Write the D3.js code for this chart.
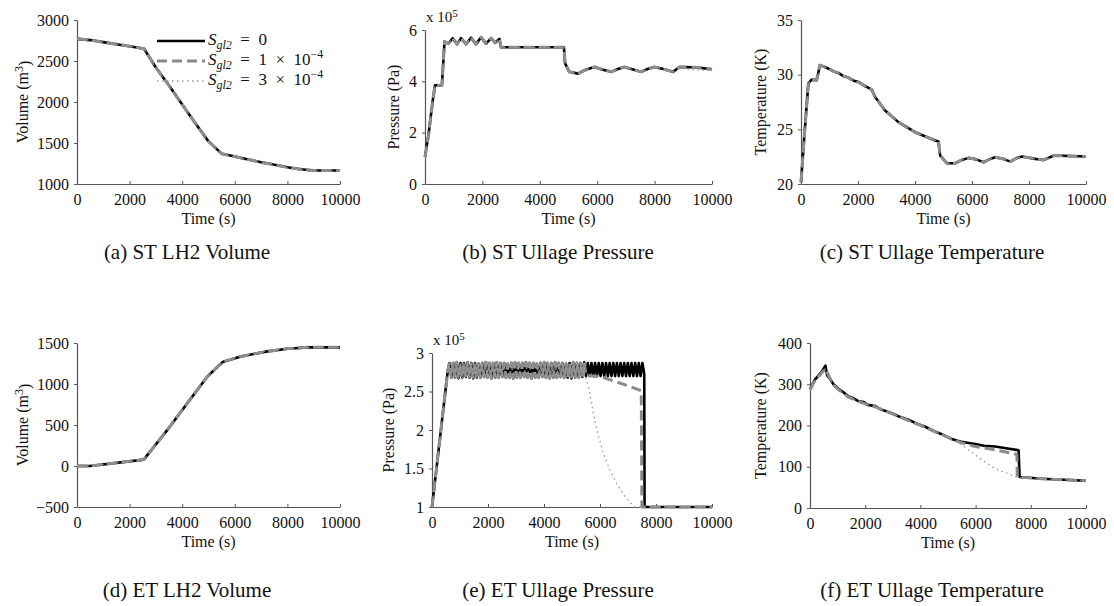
<!DOCTYPE html>
<html>
<head>
<meta charset="utf-8">
<script src="https://cdn.jsdelivr.net/npm/d3@7"></script>
<style>
    body { margin: 0; background: #fff; }
    svg { font-family: "Liberation Serif", "Times New Roman", serif; }
</style>
</head>
<body>
<div id="chart"></div>
<script>
// Axe commun du temps
var timeTicks = [0, 2000, 4000, 6000, 8000, 10000];

// (a) ST LH2 Volume (m3)
var stVolS0 = [[0, 2770], [500, 2755], [1000, 2730], [1500, 2705], [2000, 2680], [2550, 2650], [3000, 2420], [3500, 2200], [4000, 1970], [4500, 1740], [5000, 1520], [5500, 1370], [6000, 1335], [6500, 1300], [7000, 1265], [7500, 1235], [8000, 1205], [8500, 1180], [9000, 1165], [10000, 1165]];
var stVolS1 = [[0, 2770], [500, 2755], [1000, 2730], [1500, 2705], [2000, 2680], [2550, 2650], [3000, 2420], [3500, 2200], [4000, 1970], [4500, 1740], [5000, 1520], [5500, 1370], [6000, 1335], [6500, 1300], [7000, 1265], [7500, 1235], [8000, 1205], [8500, 1180], [9000, 1165], [10000, 1165]];
var stVolS2 = [[0, 2770], [500, 2755], [1000, 2730], [1500, 2705], [2000, 2680], [2550, 2650], [3000, 2420], [3500, 2200], [4000, 1970], [4500, 1740], [5000, 1520], [5500, 1368], [6000, 1328], [6500, 1290], [7000, 1252], [7500, 1222], [8000, 1195], [8500, 1172], [9000, 1160], [10000, 1160]];
var stVolTicks = [1000, 1500, 2000, 2500, 3000];

// (b) ST Ullage Pressure (x 1e5 Pa)
var stPresS0 = [[0, 1.05], [120, 1.9], [270, 3.25], [350, 3.85], [590, 3.85], [680, 5.55], [814, 5.47], [965, 5.68], [1116, 5.45], [1256, 5.68], [1430, 5.45], [1605, 5.7], [1779, 5.45], [1953, 5.72], [2128, 5.47], [2302, 5.68], [2442, 5.5], [2593, 5.65], [2650, 5.33], [4840, 5.33], [4880, 4.7], [5030, 4.37], [5330, 4.3], [5600, 4.45], [5900, 4.56], [6200, 4.45], [6490, 4.37], [6700, 4.47], [6950, 4.56], [7250, 4.46], [7530, 4.37], [7750, 4.48], [8000, 4.56], [8300, 4.48], [8640, 4.37], [8870, 4.56], [9400, 4.55], [10000, 4.47]];
var stPresS1 = [[0, 1.05], [120, 1.9], [270, 3.25], [350, 3.85], [590, 3.85], [680, 5.55], [814, 5.47], [965, 5.68], [1116, 5.45], [1256, 5.68], [1430, 5.45], [1605, 5.7], [1779, 5.45], [1953, 5.72], [2128, 5.47], [2302, 5.68], [2442, 5.5], [2593, 5.65], [2650, 5.33], [4840, 5.33], [4880, 4.7], [5030, 4.37], [5330, 4.3], [5600, 4.45], [5900, 4.56], [6200, 4.45], [6490, 4.37], [6700, 4.47], [6950, 4.56], [7250, 4.46], [7530, 4.37], [7750, 4.48], [8000, 4.56], [8300, 4.48], [8640, 4.37], [8870, 4.56], [9400, 4.55], [10000, 4.47]];
var stPresS2 = [[0, 1.05], [120, 1.9], [270, 3.25], [350, 3.85], [590, 3.85], [680, 5.55], [814, 5.47], [965, 5.68], [1116, 5.45], [1256, 5.68], [1430, 5.45], [1605, 5.7], [1779, 5.45], [1953, 5.72], [2128, 5.47], [2302, 5.68], [2442, 5.5], [2593, 5.65], [2650, 5.33], [4840, 5.33], [4880, 4.7], [5030, 4.37], [5330, 4.3], [5600, 4.45], [5900, 4.56], [6200, 4.45], [6490, 4.37], [6700, 4.47], [6950, 4.56], [7250, 4.46], [7530, 4.37], [7750, 4.48], [8000, 4.56], [8300, 4.48], [8640, 4.37], [8870, 4.5], [9400, 4.45], [10000, 4.42]];
var stPresTicks = [0, 2, 4, 6];

// (c) ST Ullage Temperature (K)
var stTempS0 = [[0, 20.15], [140, 25.2], [258, 29.2], [375, 29.55], [550, 29.5], [667, 30.87], [960, 30.56], [1150, 30.3], [1311, 30.16], [1500, 29.85], [1663, 29.73], [1850, 29.45], [2014, 29.34], [2250, 28.95], [2482, 28.63], [2600, 27.96], [2950, 26.73], [3419, 25.66], [4005, 24.74], [4707, 23.98], [4824, 23.89], [4883, 22.6], [5117, 21.9], [5410, 21.9], [5650, 22.2], [5878, 22.39], [6150, 22.25], [6405, 21.99], [6600, 22.25], [6815, 22.45], [7100, 22.3], [7342, 22.05], [7550, 22.35], [7752, 22.51], [8220, 22.3], [8513, 22.2], [8700, 22.4], [8864, 22.6], [10000, 22.51]];
var stTempS1 = [[0, 20.15], [140, 25.2], [258, 29.2], [375, 29.55], [550, 29.5], [667, 30.87], [960, 30.56], [1150, 30.3], [1311, 30.16], [1500, 29.85], [1663, 29.73], [1850, 29.45], [2014, 29.34], [2250, 28.95], [2482, 28.63], [2600, 27.96], [2950, 26.73], [3419, 25.66], [4005, 24.74], [4707, 23.98], [4824, 23.89], [4883, 22.6], [5117, 21.9], [5410, 21.9], [5650, 22.2], [5878, 22.39], [6150, 22.25], [6405, 21.99], [6600, 22.25], [6815, 22.45], [7100, 22.3], [7342, 22.05], [7550, 22.35], [7752, 22.51], [8220, 22.3], [8513, 22.2], [8700, 22.4], [8864, 22.6], [10000, 22.51]];
var stTempS2 = [[0, 20.15], [140, 25.2], [258, 29.2], [375, 29.55], [550, 29.5], [667, 30.87], [960, 30.56], [1150, 30.3], [1311, 30.16], [1500, 29.85], [1663, 29.73], [1850, 29.45], [2014, 29.34], [2250, 28.95], [2482, 28.63], [2600, 27.96], [2950, 26.73], [3419, 25.66], [4005, 24.74], [4707, 23.98], [4824, 23.89], [4883, 22.6], [5117, 21.9], [5410, 21.9], [5650, 22.2], [5878, 22.39], [6150, 22.25], [6405, 21.99], [6600, 22.25], [6815, 22.45], [7100, 22.3], [7342, 22.05], [7550, 22.35], [7752, 22.51], [8220, 22.3], [8513, 22.2], [8700, 22.35], [8864, 22.5], [10000, 22.4]];
var stTempTicks = [20, 25, 30, 35];

// (d) ET LH2 Volume (m3)
var etVolS0 = [[0, 0], [500, 0], [2540, 78], [3430, 437], [4190, 764], [4960, 1091], [5530, 1267], [6230, 1336], [7240, 1398], [8000, 1430], [8770, 1447], [10000, 1447]];
var etVolS1 = [[0, 0], [500, 0], [2540, 78], [3430, 437], [4190, 764], [4960, 1091], [5530, 1267], [6230, 1336], [7240, 1398], [8000, 1430], [8770, 1447], [10000, 1447]];
var etVolS2 = [[0, 0], [500, 0], [2540, 78], [3430, 437], [4190, 764], [4960, 1091], [5530, 1270], [6230, 1345], [7240, 1405], [8000, 1433], [8770, 1447], [10000, 1447]];
var etVolTicks = [-500, 0, 500, 1000, 1500];

// (e) ET Ullage Pressure (x 1e5 Pa) : cycles de pressurisation
var etPresCycles = [
    [560, 2.76], [625, 2.87], [690, 2.68], [755, 2.87], [820, 2.68], [885, 2.88], [950, 2.67], [1015, 2.87],
    [1080, 2.68], [1145, 2.87], [1210, 2.69], [1275, 2.88], [1340, 2.68], [1405, 2.87], [1470, 2.67], [1535, 2.87],
    [1600, 2.68], [1665, 2.86], [1730, 2.68], [1795, 2.87], [1860, 2.69], [1925, 2.88], [1990, 2.68], [2055, 2.87],
    [2120, 2.67], [2185, 2.87], [2250, 2.68], [2315, 2.88], [2380, 2.68], [2445, 2.87], [2510, 2.69], [2575, 2.87],
    [2640, 2.68], [2705, 2.86], [2770, 2.68], [2835, 2.87], [2900, 2.67], [2965, 2.88], [3030, 2.68], [3095, 2.87],
    [3160, 2.68], [3225, 2.87], [3290, 2.69], [3355, 2.88], [3420, 2.68], [3485, 2.87], [3550, 2.67], [3615, 2.87],
    [3680, 2.68], [3745, 2.86], [3810, 2.68], [3875, 2.87], [3940, 2.69], [4005, 2.88], [4070, 2.68], [4135, 2.87],
    [4200, 2.67], [4265, 2.87], [4330, 2.68], [4395, 2.88], [4460, 2.68], [4525, 2.87], [4590, 2.69], [4655, 2.87],
    [4720, 2.68], [4785, 2.86], [4850, 2.68], [4915, 2.87], [4980, 2.67], [5045, 2.88], [5110, 2.68], [5175, 2.87],
    [5240, 2.68], [5305, 2.87], [5370, 2.69], [5435, 2.88], [5500, 2.7], [5565, 2.87], [5630, 2.7], [5695, 2.87],
    [5760, 2.7], [5825, 2.87], [5890, 2.7], [5955, 2.87], [6020, 2.7], [6085, 2.87], [6150, 2.7], [6215, 2.87],
    [6280, 2.7], [6345, 2.87], [6410, 2.7], [6475, 2.87], [6540, 2.7], [6605, 2.87], [6670, 2.7], [6735, 2.87],
    [6800, 2.7], [6865, 2.87], [6930, 2.7], [6995, 2.87], [7060, 2.7], [7125, 2.87], [7190, 2.7], [7255, 2.87],
    [7320, 2.7], [7385, 2.87], [7450, 2.7], [7515, 2.87], [7580, 2.73]
];
var etPresStart = [[0, 1.0]];
var etPresEndS0 = [[7592, 1.0], [10000, 1.0]];
var etPresEndS1 = [[5500, 2.71], [6043, 2.69], [6877, 2.59], [7473, 2.51], [7497, 1.0], [10000, 1.0]];
var etPresEndS2 = [[5450, 2.72], [5600, 2.55], [5750, 2.25], [5900, 1.98], [6100, 1.72], [6350, 1.48], [6600, 1.3], [6850, 1.16], [7050, 1.07], [7250, 1.0], [10000, 1.0]];
var etPresSplit = 5435; // fin des cycles pour S = 1e-4 et 3e-4
var etPresTicks = [1, 1.5, 2, 2.5, 3];

// (f) ET Ullage Temperature (K)
var etTempS0 = [[0, 288], [180, 311], [420, 330], [560, 345], [620, 322], [725, 313], [850, 300], [1030, 289], [1200, 281], [1390, 271], [1550, 267], [1753, 259], [1950, 257], [2100, 250], [2358, 247], [2600, 238], [2963, 230], [3250, 221], [3567, 214], [3850, 205], [4172, 197], [4500, 186], [4776, 179], [5100, 168], [5441, 161], [5700, 158], [5985, 155], [6300, 151], [6711, 149], [7100, 145], [7557, 140], [7594, 75], [8404, 71], [10000, 66]];
var etTempS1 = [[0, 286], [180, 309], [420, 327], [560, 338], [700, 318], [850, 298], [1030, 287], [1390, 269], [1753, 258], [2358, 245], [2963, 229], [3567, 212], [4172, 196], [4776, 178], [5441, 159], [5985, 149], [6711, 141], [7437, 131], [7497, 129], [7510, 75], [8404, 71], [10000, 66]];
var etTempS2 = [[0, 286], [180, 309], [420, 327], [560, 338], [700, 318], [850, 298], [1030, 287], [1390, 269], [1753, 258], [2358, 245], [2963, 229], [3567, 212], [4172, 196], [4776, 178], [5380, 158], [5700, 143], [5985, 129], [6300, 114], [6590, 100], [6900, 90], [7195, 83], [7437, 76], [7600, 74], [8404, 71], [10000, 66]];
var etTempTicks = [0, 100, 200, 300, 400];

// Construction des séries de pression ET
var etPresS0 = etPresStart.concat(etPresCycles, etPresEndS0);
var etPresS1 = etPresStart.concat(etPresCycles.filter(function (d) { return d[0] <= etPresSplit; }), etPresEndS1);
var etPresS2 = etPresStart.concat(etPresCycles.filter(function (d) { return d[0] <= etPresSplit; }), etPresEndS2);

// Disposition des sous-figures
var panels = [
    {left: 77, right: 340, top: 20, bottom: 184, domain: [1000, 3000], ticks: stVolTicks, label: "Volume", unitSup: true, labelX: 28, caption: "(a) ST LH2 Volume", capX: 187, capY: 259, series: [stVolS0, stVolS1, stVolS2], legend: true},
    {left: 425, right: 712, top: 30, bottom: 184, domain: [0, 6], ticks: stPresTicks, label: "Pressure (Pa)", labelX: 399, caption: "(b) ST Ullage Pressure", capX: 558, capY: 259, series: [stPresS0, stPresS1, stPresS2], factor: true},
    {left: 801, right: 1086, top: 20, bottom: 184, domain: [20, 35], ticks: stTempTicks, label: "Temperature (K)", labelX: 766, caption: "(c) ST Ullage Temperature", capX: 932, capY: 259, series: [stTempS0, stTempS1, stTempS2]},
    {left: 77, right: 340, top: 343, bottom: 507, domain: [-500, 1500], ticks: etVolTicks, label: "Volume", unitSup: true, labelX: 28, caption: "(d) ET LH2 Volume", capX: 187, capY: 597, series: [etVolS0, etVolS1, etVolS2]},
    {left: 432, right: 712, top: 353, bottom: 507, domain: [1, 3], ticks: etPresTicks, label: "Pressure (Pa)", labelX: 394, caption: "(e) ET Ullage Pressure", capX: 558, capY: 597, series: [etPresS0, etPresS1, etPresS2], factor: true},
    {left: 810, right: 1086, top: 343, bottom: 508, domain: [0, 400], ticks: etTempTicks, label: "Temperature (K)", labelX: 766, caption: "(f) ET Ullage Temperature", capX: 932, capY: 597, series: [etTempS0, etTempS1, etTempS2]}
];

// Styles des trois courbes (S = 0, 1e-4, 3e-4)
var styles = [
    {stroke: "#000", width: 2.6, dash: null},
    {stroke: "#8a8a8a", width: 3, dash: "10,5"},
    {stroke: "#9c9c9c", width: 1.4, dash: "1.5,3.5"}
];

var svg = d3.select("#chart").append("svg").attr("width", 1114).attr("height", 606);

function fmt(d) {
    return d < 0 ? "\u2212" + (-d) : String(d);
}

function drawPanel(p) {
    let x = d3.scaleLinear().domain([0, 10000]).range([p.left, p.right]);
    let y = d3.scaleLinear().domain(p.domain).range([p.bottom, p.top]);
    let g = svg.append("g");

    // Axe X
    let gx = g.append("g")
        .attr("transform", "translate(0," + p.bottom + ")")
        .call(d3.axisBottom(x).tickValues(timeTicks).tickFormat(fmt).tickSizeInner(-3).tickSizeOuter(0).tickPadding(10));
    // Axe Y
    let gy = g.append("g")
        .attr("transform", "translate(" + p.left + ",0)")
        .call(d3.axisLeft(y).tickValues(p.ticks).tickFormat(fmt).tickSizeInner(3).tickSizeOuter(0).tickPadding(5));

    [gx, gy].forEach(function (a) {
        a.select(".domain").attr("stroke", "#555").attr("stroke-width", 1.2);
        a.selectAll(".tick line").attr("stroke", "#555");
        a.selectAll(".tick text").attr("fill", "#111").style("font-size", "16px")
            .style("font-family", "'Liberation Serif', 'Times New Roman', serif");
    });

    // Titre axe X
    g.append("text")
        .attr("x", (p.left + p.right) / 2).attr("y", p.bottom + 40)
        .attr("text-anchor", "middle").style("font-size", "16px").attr("fill", "#111")
        .text("Time (s)");

    // Titre axe Y
    let yl = g.append("text")
        .attr("transform", "translate(" + p.labelX + "," + ((p.top + p.bottom) / 2) + ") rotate(-90)")
        .attr("text-anchor", "middle").style("font-size", "16px").attr("fill", "#111");
    if (p.unitSup) {
        yl.append("tspan").text(p.label + " (m");
        yl.append("tspan").attr("dy", "-0.45em").style("font-size", "12px").text("3");
        yl.append("tspan").attr("dy", "0.45em").text(")");
    } else {
        yl.text(p.label);
    }

    // Facteur x 10^5
    if (p.factor) {
        let ft = g.append("text").attr("x", p.left + 1).attr("y", p.top - 8)
            .style("font-size", "15px").attr("fill", "#111");
        ft.append("tspan").text("x 10");
        ft.append("tspan").attr("dy", "-0.5em").style("font-size", "11px").text("5");
    }

    // Courbes
    let line = d3.line().x(function (d) { return x(d[0]); }).y(function (d) { return y(d[1]); });
    p.series.forEach(function (s, i) {
        let st = styles[i];
        g.append("path")
            .datum(s)
            .attr("fill", "none")
            .attr("stroke", st.stroke)
            .attr("stroke-width", st.width)
            .attr("stroke-dasharray", st.dash)
            .attr("stroke-linejoin", "round")
            .attr("d", line);
    });

    // Légende
    if (p.legend) {
        let labels = [["0", null], ["1\u2002\u00d7\u200210", "\u22124"], ["3\u2002\u00d7\u200210", "\u22124"]];
        labels.forEach(function (lb, i) {
            let ly = 41 + i * 20;
            let st = styles[i];
            g.append("line").attr("x1", 157).attr("x2", 205).attr("y1", ly).attr("y2", ly)
                .attr("stroke", st.stroke).attr("stroke-width", st.width).attr("stroke-dasharray", st.dash);
            let t = g.append("text").attr("x", 208).attr("y", ly + 4).style("font-size", "17px").attr("fill", "#111");
            t.append("tspan").style("font-style", "italic").text("S");
            t.append("tspan").style("font-style", "italic").style("font-size", "12px").attr("dy", 4).text("gl2");
            t.append("tspan").attr("dy", -4).text("\u2002=\u2002" + lb[0]);
            if (lb[1]) {
                t.append("tspan").attr("dy", -7).style("font-size", "12px").text(lb[1]);
            }
        });
    }

    // Légende de sous-figure
    g.append("text")
        .attr("x", p.capX).attr("y", p.capY)
        .attr("text-anchor", "middle").style("font-size", "21px").attr("fill", "#111")
        .text(p.caption);
}

panels.forEach(drawPanel);
</script>
</body>
</html>
